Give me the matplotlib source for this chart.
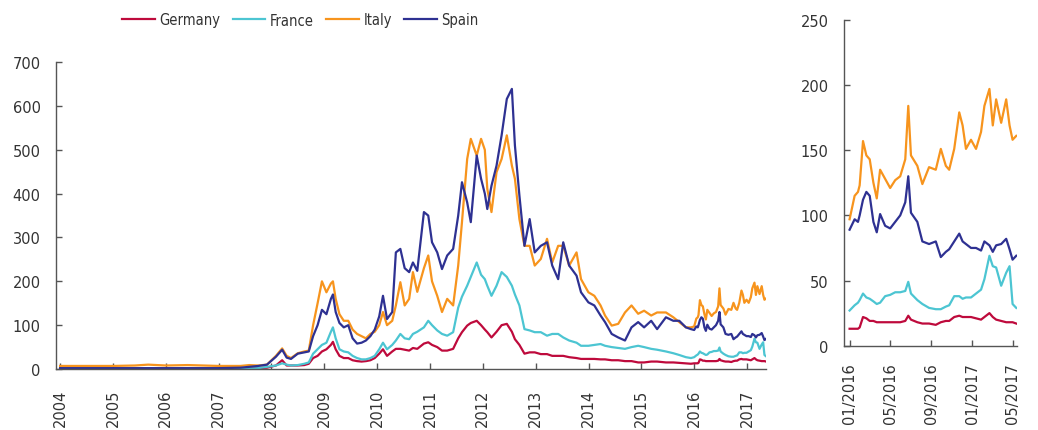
import matplotlib
matplotlib.use("Agg")
import matplotlib.pyplot as plt
import matplotlib.dates as mdates
import pandas as pd

# 2004 - 2015
dates_hist = [
    "2004-01-01", "2004-06-01", "2005-01-01", "2005-06-01", "2005-09-01", "2006-01-01",
    "2006-06-01", "2007-01-01", "2007-06-01", "2007-08-01", "2007-10-01", "2007-12-01",
    "2008-02-01", "2008-03-15", "2008-04-15", "2008-05-15", "2008-07-01", "2008-08-15",
    "2008-09-15", "2008-10-15", "2008-11-15", "2008-12-15", "2009-01-15", "2009-02-15",
    "2009-03-01", "2009-03-20", "2009-04-15", "2009-05-15", "2009-06-15", "2009-07-15",
    "2009-08-15", "2009-09-15", "2009-10-15", "2009-11-15", "2009-12-15", "2010-01-15",
    "2010-02-10", "2010-03-10", "2010-04-15", "2010-05-10", "2010-06-10", "2010-07-10",
    "2010-08-10", "2010-09-05", "2010-10-05", "2010-11-20", "2010-12-20", "2011-01-15",
    "2011-02-20", "2011-03-25", "2011-04-30", "2011-06-10", "2011-07-15", "2011-08-10",
    "2011-09-15", "2011-10-10", "2011-11-20", "2011-12-20", "2012-01-15", "2012-02-01",
    "2012-03-01", "2012-04-05", "2012-05-10", "2012-06-15", "2012-07-20", "2012-08-10",
    "2012-09-10", "2012-10-15", "2012-11-20", "2012-12-25", "2013-02-05", "2013-03-20",
    "2013-04-25", "2013-06-05", "2013-07-10", "2013-08-20", "2013-10-10", "2013-11-10",
    "2013-12-31", "2014-02-10", "2014-03-25", "2014-04-25", "2014-06-10", "2014-07-25",
    "2014-09-10", "2014-10-25", "2014-12-10", "2015-01-20", "2015-03-10", "2015-04-20",
    "2015-06-20", "2015-08-10", "2015-09-20", "2015-11-05", "2015-12-10",
]
germany_hist = [
    0, 0, 0, 0, 0, 0, 0, 0, 0, 1, 2, 3,
    8, 20, 8, 8, 8, 9, 12, 25, 30, 40, 45, 55,
    62, 45, 30, 25, 25, 20, 18, 17, 18, 20, 25, 35,
    45, 30, 40, 46, 46, 44, 42, 48, 46, 58, 61, 55,
    50, 42, 42, 46, 70, 84, 99, 105, 110, 100, 90, 84,
    72, 85, 100, 103, 85, 68, 55, 35, 38, 38, 34, 34,
    30, 30, 30, 27, 25, 23, 23, 23, 22, 22, 20, 20,
    18, 18, 15, 15, 17, 17, 15, 15, 14, 13, 12,
]
france_hist = [
    0, 0, 0, 0, 0, 0, 0, 0, 0, 1, 2, 5,
    8, 13, 10, 8, 9, 12, 15, 35, 45, 55, 60, 85,
    95, 70, 45, 40, 38, 30, 25, 22, 22, 25, 30, 45,
    60, 45, 55, 65, 80, 70, 68, 80, 85, 95, 110, 100,
    88, 80, 76, 84, 140, 165, 190, 210, 243, 215, 205, 190,
    167, 190, 221, 210, 190, 170, 145, 91, 88, 84, 84, 76,
    80, 80, 72, 65, 60, 53, 53, 55, 57, 53, 50, 48,
    46, 50, 53, 50, 46, 44, 40, 36, 32, 27, 25,
]
italy_hist = [
    7, 7, 7, 8, 10, 8, 9, 7, 7, 9, 8, 10,
    30, 47, 30, 25, 36, 40, 42, 100, 150, 200, 175, 195,
    200, 160, 125, 110, 110, 90, 80, 75, 70, 80, 85, 100,
    130, 100, 110, 145, 198, 145, 160, 221, 176, 230, 259, 200,
    167, 130, 160, 145, 236, 335, 479, 525, 487, 525, 500, 411,
    358, 449, 479, 533, 464, 434, 342, 281, 281, 236, 251, 297,
    243, 281, 281, 236, 266, 205, 175, 167, 145, 122, 99, 103,
    129, 145, 126, 133, 122, 129, 129, 118, 107, 95, 95,
]
spain_hist = [
    2, 2, 2, 2, 2, 2, 2, 2, 3, 5, 7, 10,
    28, 44, 26, 23, 35, 38, 40, 75, 100, 135, 125, 160,
    170, 130, 105, 95, 100, 70, 58, 60, 65, 75, 90, 120,
    167, 114, 130, 266, 274, 230, 221, 243, 224, 358, 350, 289,
    266, 228, 259, 274, 350, 426, 380, 335, 487, 434, 400, 365,
    418, 464, 533, 616, 639, 510, 396, 281, 342, 266, 281, 289,
    236, 205, 289, 236, 213, 175, 152, 145, 122, 107, 80, 72,
    65, 95, 107, 95, 110, 91, 118, 110, 110, 95, 91,
]

# 2016 - May 2017
dates_recent = [
    "2016-01-01", "2016-01-16", "2016-01-26", "2016-01-31", "2016-02-10", "2016-02-20",
    "2016-03-01", "2016-03-12", "2016-03-22", "2016-04-01", "2016-04-16", "2016-05-01",
    "2016-05-16", "2016-05-31", "2016-06-15", "2016-06-24", "2016-07-02", "2016-07-21",
    "2016-08-05", "2016-08-25", "2016-09-14", "2016-09-29", "2016-10-14", "2016-10-24",
    "2016-11-08", "2016-11-23", "2016-12-03", "2016-12-13", "2016-12-28", "2017-01-12",
    "2017-01-27", "2017-02-06", "2017-02-21", "2017-03-03", "2017-03-13", "2017-03-28",
    "2017-04-12", "2017-04-22", "2017-05-01", "2017-05-12",
]
germany_recent = [
    13, 13, 13, 14, 22, 21, 19, 19, 18, 18, 18, 18,
    18, 18, 19, 23, 20, 18, 17, 17, 16, 18, 19, 19,
    22, 23, 22, 22, 22, 21, 20, 22, 25, 22, 20, 19,
    18, 18, 18, 17,
]
france_recent = [
    27, 31, 33, 35, 40, 37, 36, 34, 32, 33, 38, 39,
    41, 41, 42, 49, 40, 35, 32, 29, 28, 28, 30, 31,
    38, 38, 36, 37, 37, 40, 43, 51, 69, 61, 60, 46,
    56, 61, 32, 29,
]
italy_recent = [
    97, 115, 118, 123, 157, 146, 143, 125, 113, 135, 128, 121,
    127, 130, 143, 184, 146, 138, 124, 137, 135, 151, 138, 135,
    151, 179, 169, 151, 158, 151, 164, 184, 197, 169, 189, 171,
    189, 169, 158, 161,
]
spain_recent = [
    89, 97, 95, 100, 112, 118, 115, 95, 87, 101, 92, 90,
    95, 100, 110, 130, 102, 95, 80, 78, 80, 68, 72, 74,
    80, 86, 80, 78, 75, 75, 73, 80, 77, 72, 77, 78,
    82, 74, 66, 69,
]

names = ["Germany", "France", "Italy", "Spain"]
colors = ["#BE0A3C", "#4CC5D2", "#F7941D", "#2E3192"]

hist = [germany_hist, france_hist, italy_hist, spain_hist]
recent = [germany_recent, france_recent, italy_recent, spain_recent]
d_hist = pd.to_datetime(dates_hist)
d_recent = pd.to_datetime(dates_recent)
d_all = d_hist.append(d_recent)

text_col = "#333333"
axis_col = "#555555"

fig = plt.figure(figsize=(10.38, 4.31), dpi=100)
ax1 = fig.add_axes([0.054, 0.1415, 0.684, 0.712])
ax2 = fig.add_axes([0.813, 0.1956, 0.1667, 0.756])

for name, col, h, r in zip(names, colors, hist, recent):
    ax1.plot(d_all, h + r, color=col, lw=1.6, label=name)
    ax2.plot(d_recent, r, color=col, lw=1.6)

ax1.set_ylim(0, 700)
ax1.set_yticks(range(0, 701, 100))
ax1.set_xlim(pd.Timestamp("2003-12-04"), pd.Timestamp("2017-05-12"))
ax1.xaxis.set_major_locator(mdates.YearLocator())
ax1.xaxis.set_major_formatter(mdates.DateFormatter("%Y"))

ax2.set_ylim(0, 250)
ax2.set_yticks(range(0, 251, 50))
ax2.set_xlim(pd.Timestamp("2015-12-15"), pd.Timestamp("2017-05-14"))
ax2.xaxis.set_major_locator(mdates.MonthLocator(bymonth=[1, 5, 9]))
ax2.xaxis.set_major_formatter(mdates.DateFormatter("%m/%Y"))

for ax, xpad in ((ax1, 14), (ax2, 12)):
    for s in ("top", "right"):
        ax.spines[s].set_visible(False)
    for s in ("left", "bottom"):
        ax.spines[s].set_color(axis_col)
        ax.spines[s].set_linewidth(1.0)
    ax.tick_params(axis="both", direction="in", length=4, width=1, color=axis_col,
                   labelcolor=text_col, labelsize=10.5)
    ax.tick_params(axis="x", pad=xpad, labelrotation=90)
    ax.tick_params(axis="y", pad=11)

# legend sits above the long panel, left edge of first handle at x=122px
fig.legend(loc="center left", bbox_to_anchor=(122 / 1038, 1 - 21 / 431), ncol=4,
           frameon=False, borderpad=0, borderaxespad=0,
           handlelength=2.25, handletextpad=0.3, columnspacing=0.85,
           prop={"family": "DejaVu Sans", "stretch": "condensed", "size": 10.5},
           labelcolor=text_col)

fig.savefig("out.png", dpi=100)
